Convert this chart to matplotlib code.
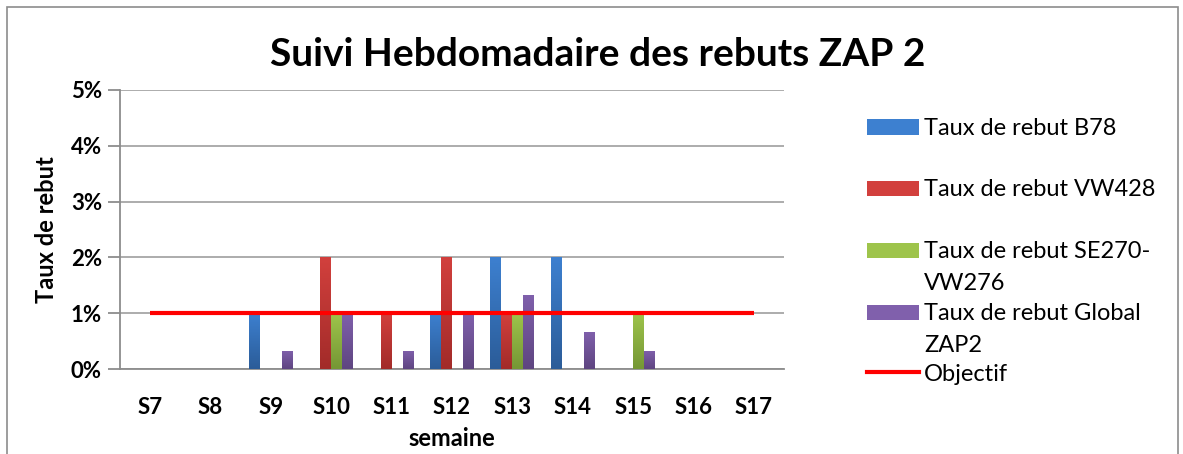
import matplotlib
matplotlib.use("Agg")
import matplotlib.pyplot as plt
import numpy as np
from matplotlib.patches import Rectangle
from matplotlib.lines import Line2D
from matplotlib.colors import LinearSegmentedColormap

plt.rcParams['font.family'] = ['Lato', 'DejaVu Sans']

# ---- data ----
weeks = ["S7", "S8", "S9", "S10", "S11", "S12", "S13", "S14", "S15", "S16", "S17"]
b78 = [0, 0, 1, 0, 0, 1, 2, 2, 0, 0, 0]
vw428 = [0, 0, 0, 2, 1, 2, 1, 0, 0, 0, 0]
se270 = [0, 0, 0, 1, 0, 0, 1, 0, 1, 0, 0]
global_zap2 = [0, 0, 0.33, 1, 0.33, 1, 1.33, 0.67, 0.33, 0, 0]
objectif = [1] * 11
series_labels = ["Taux de rebut B78", "Taux de rebut VW428",
                 "Taux de rebut SE270-\nVW276", "Taux de rebut Global\nZAP2"]
objectif_label = "Objectif"
yticks = [0, 1, 2, 3, 4, 5]
ytick_labels = ["0%", "1%", "2%", "3%", "4%", "5%"]

# colour pairs (top, bottom) for the gradient
colors = [("#3D80D0", "#2B5C98"), ("#D2403D", "#A22B29"),
          ("#9EC44B", "#759735"), ("#8060AC", "#5E4580")]

W, H = 1183, 454
fig = plt.figure(figsize=(W / 100, H / 100), dpi=100)
fig.patch.set_facecolor("white")

# chart border
fig.patches.append(Rectangle((7 / W, -0.1), (1178 - 7) / W, (H - 7) / H + 0.1,
                             transform=fig.transFigure, fill=False,
                             edgecolor="#8C8C8C", lw=1.2))

ax = fig.add_axes([120 / W, (H - 369) / H, (784 - 120) / W, (369 - 90) / H])
x = np.arange(len(weeks))
bw = 0.182
offs = [-1.5, -0.5, 0.5, 1.5]
all_series = [b78, vw428, se270, global_zap2]

grad = np.linspace(1, 0, 256).reshape(-1, 1)
for s, (vals, (ctop, cbot), o) in enumerate(zip(all_series, colors, offs)):
    bars = ax.bar(x + o * bw, vals, width=bw, color=ctop, linewidth=0, zorder=3)
    cmap = LinearSegmentedColormap.from_list("g%d" % s, [cbot, ctop])
    for b in bars:
        h = b.get_height()
        if h <= 0:
            continue
        x0 = b.get_x()
        im = ax.imshow(grad, cmap=cmap, aspect="auto",
                       extent=(x0, x0 + b.get_width(), 0, h), zorder=3.1,
                       interpolation="bicubic")
        im.set_clip_path(b)

ax.plot(x, objectif, color="#FF0000", lw=3, zorder=4, solid_capstyle="butt")

ax.set_xlim(-0.5, len(weeks) - 0.5)
ax.set_ylim(0, 5)
ax.set_yticks(yticks)
ax.set_yticklabels(ytick_labels, fontsize=16, fontweight="bold")
ax.set_xticks(x)
ax.set_xticklabels(weeks, fontsize=16, fontweight="bold")
ax.tick_params(axis="x", length=0, pad=20)
ax.tick_params(axis="y", length=9, width=1.3, color="#8C8C8C", pad=4, direction="out")
ax.grid(axis="y", color="#A6A6A6", lw=1.3, zorder=0)
ax.set_axisbelow(True)
for sp in ["top", "right"]:
    ax.spines[sp].set_visible(False)
for sp in ["left", "bottom"]:
    ax.spines[sp].set_color("#8C8C8C")
    ax.spines[sp].set_linewidth(1.3)

ax.set_ylabel("Taux de rebut", fontsize=17, fontweight="bold", labelpad=9)
ax.set_xlabel("semaine", fontsize=17, fontweight="bold", labelpad=7)

fig.text(598 / W, 1 - 55 / H, "Suivi Hebdomadaire des rebuts ZAP 2",
         fontsize=28, fontweight="bold", ha="center", va="center")

# legend (manual, Excel-like slots)
ycent = [127, 188, 250, 312]
line_step = 32
for lab, (ctop, cbot), yc in zip(series_labels, colors, ycent):
    fig.patches.append(Rectangle((867 / W, 1 - (yc + 7.5) / H), 52 / W, 15 / H,
                                 transform=fig.transFigure, facecolor=ctop,
                                 edgecolor="none"))
    for i, part in enumerate(lab.split("\n")):
        fig.text(924 / W, 1 - (yc + 8 + i * line_step) / H, part, fontsize=17,
                 ha="left", va="baseline", transform=fig.transFigure)
fig.lines.append(Line2D([867 / W, 919 / W], [1 - 372 / H, 1 - 372 / H],
                        transform=fig.transFigure, color="#FF0000", lw=3))
fig.text(924 / W, 1 - 381 / H, objectif_label, fontsize=17, ha="left",
         va="baseline", transform=fig.transFigure)

fig.savefig("out.png", dpi=100)
